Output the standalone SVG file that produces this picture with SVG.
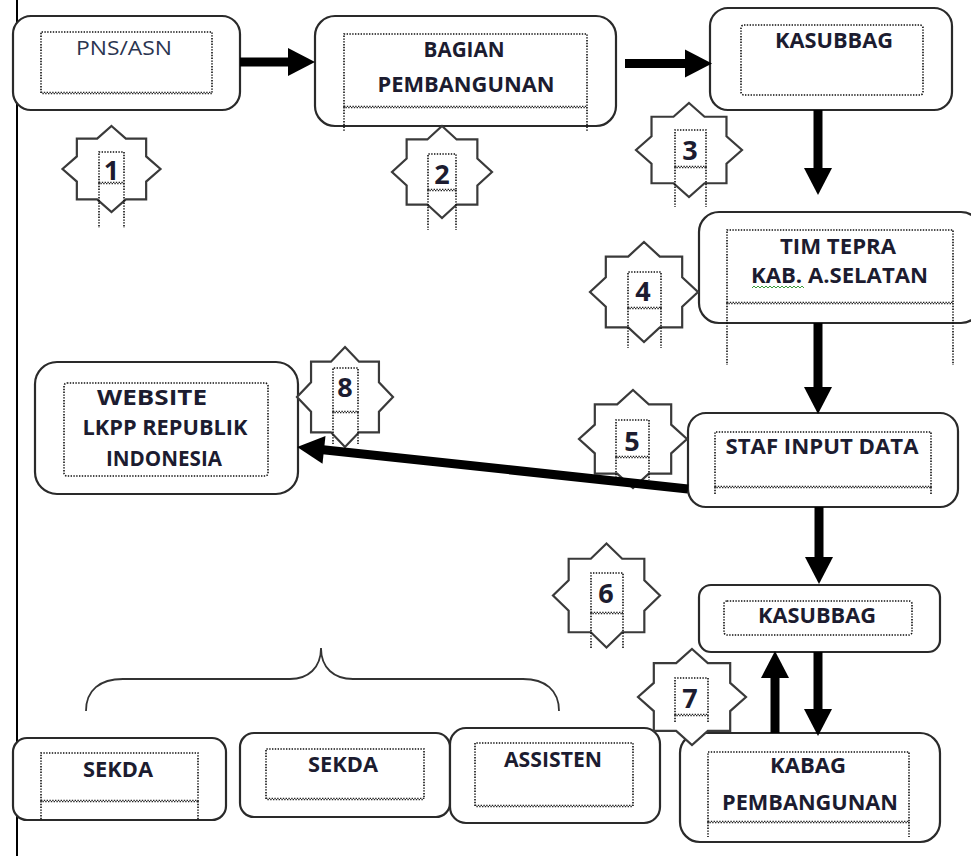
<svg xmlns="http://www.w3.org/2000/svg" xmlns:xlink="http://www.w3.org/1999/xlink" width="971" height="856" viewBox="0 0 971 856">
<style>
.box{fill:#fff;stroke:#2a2a2a;stroke-width:2.2}
.dot{fill:none;stroke:#111;stroke-width:1.6;stroke-dasharray:1.4 1.4}
.wv{fill:none;stroke:#222;stroke-width:1.3;stroke-dasharray:1.4 1.4}
.t{font-family:"Open Sans","Lato","Liberation Sans",sans-serif;font-weight:bold;font-size:22px;fill:#1c1c30;text-anchor:middle}
.tn{font-family:"Open Sans","Lato","Liberation Sans",sans-serif;font-weight:normal;font-size:20px;fill:#2b3550;text-anchor:middle}
.num{font-family:"Open Sans","Lato","Liberation Sans",sans-serif;font-weight:bold;font-size:27px;fill:#1c1c30;text-anchor:middle}
.ar{fill:none;stroke:#000;stroke-width:9;marker-end:url(#ah)}
</style>
<defs>
<polygon id="star" points="0,-50 14.64,-35.36 35.36,-35.36 35.36,-14.64 50,0 35.36,14.64 35.36,35.36 14.64,35.36 0,50 -14.64,35.36 -35.36,35.36 -35.36,14.64 -50,0 -35.36,-14.64 -35.36,-35.36 -14.64,-35.36" fill="#fff" stroke="#3a3a3a" stroke-width="2.2" vector-effect="non-scaling-stroke"/>
<marker id="ah" markerUnits="userSpaceOnUse" markerWidth="30" markerHeight="30" refX="0" refY="14" orient="auto" overflow="visible">
<path d="M-1,0 L26,14 L-1,28 Z" fill="#000"/>
</marker>
</defs>
<rect width="971" height="856" fill="#fff"/>
<line x1="17" y1="0" x2="17" y2="856" stroke="#000" stroke-width="2"/>

<g id="pns">
<rect class="box" x="13" y="16" width="227" height="94" rx="18"/>
<path class="dot" d="M41,93 V32 H212 V93"/>
<path class="wv" d="M41,92.3 H212"/><path class="wv" d="M41,93.7 H212" stroke-dashoffset="1.4"/>
<text class="tn" x="124" y="55" textLength="96" lengthAdjust="spacingAndGlyphs">PNS/ASN</text>
</g>

<g id="bagian">
<rect class="box" x="315" y="16" width="301" height="110" rx="20"/>
<path class="dot" d="M344,107 V34 H587 V107 M344,107 V132 M587,107 V132"/>
<path class="wv" d="M344,106.3 H587"/><path class="wv" d="M344,107.7 H587" stroke-dashoffset="1.4"/>
<text class="t" x="464" y="57" textLength="81" lengthAdjust="spacingAndGlyphs">BAGIAN</text>
<text class="t" x="466" y="92" textLength="177" lengthAdjust="spacingAndGlyphs">PEMBANGUNAN</text>
</g>

<g id="kasubbag1">
<rect class="box" x="710" y="8" width="242" height="102" rx="18"/>
<rect class="dot" x="741" y="25" width="182" height="70" rx="3"/>
<text class="t" x="834" y="48" textLength="118" lengthAdjust="spacingAndGlyphs">KASUBBAG</text>
</g>

<g id="timtepra">
<rect class="box" x="699" y="212" width="282" height="111" rx="20"/>
<path class="dot" d="M727,303 V230 H953 V303 M727,303 V365 M953,303 V365"/>
<path class="wv" d="M727,302.3 H953"/><path class="wv" d="M727,303.7 H953" stroke-dashoffset="1.4"/>
<text class="t" x="838" y="254" textLength="116" lengthAdjust="spacingAndGlyphs">TIM TEPRA</text>
<text class="t" x="839.5" y="283" textLength="177" lengthAdjust="spacingAndGlyphs">KAB. A.SELATAN</text>
<path d="M752,288 l2,-2 l2,2 l2,-2 l2,2 l2,-2 l2,2 l2,-2 l2,2 l2,-2 l2,2 l2,-2 l2,2 l2,-2 l2,2 l2,-2 l2,2 l2,-2 l2,2 l2,-2 l2,2 l2,-2 l2,2 l2,-2 l2,2 l2,-2 l2,2" fill="none" stroke="#3a9a3a" stroke-width="1"/>
</g>

<g id="website">
<rect class="box" x="35" y="362" width="263" height="132" rx="22"/>
<rect class="dot" x="64" y="383" width="204" height="93" rx="3"/>
<text class="t" x="152" y="405" textLength="110" lengthAdjust="spacingAndGlyphs">WEBSITE</text>
<text class="t" x="165" y="435" textLength="165" lengthAdjust="spacingAndGlyphs">LKPP REPUBLIK</text>
<text class="t" x="164" y="466" textLength="116" lengthAdjust="spacingAndGlyphs">INDONESIA</text>
</g>

<g id="staf">
<rect class="box" x="688" y="413" width="270" height="94" rx="18"/>
<path class="dot" d="M715,487 V432 H931 V487 M715,487 V495 M931,487 V495"/>
<path class="wv" d="M715,486.3 H931"/><path class="wv" d="M715,487.7 H931" stroke-dashoffset="1.4"/>
<text class="t" x="822" y="454" textLength="193" lengthAdjust="spacingAndGlyphs">STAF INPUT DATA</text>
</g>

<g id="kasubbag2">
<rect class="box" x="699" y="585" width="241" height="67" rx="12"/>
<rect class="dot" x="724" y="601" width="188" height="34" rx="3"/>
<text class="t" x="817" y="623" textLength="118" lengthAdjust="spacingAndGlyphs">KASUBBAG</text>
</g>

<g id="kabag">
<rect class="box" x="680" y="733" width="260" height="109" rx="20"/>
<path class="dot" d="M708,822 V752 H909 V822 M708,822 V837 M909,822 V837"/>
<path class="wv" d="M708,821.3 H909"/><path class="wv" d="M708,822.7 H909" stroke-dashoffset="1.4"/>
<text class="t" x="808" y="773" textLength="76" lengthAdjust="spacingAndGlyphs">KABAG</text>
<text class="t" x="810" y="810" textLength="176" lengthAdjust="spacingAndGlyphs">PEMBANGUNAN</text>
</g>

<g id="sekda1">
<rect class="box" x="13" y="738" width="213" height="82" rx="14"/>
<path class="dot" d="M41,801 V753 H198 V801 M41,801 V819 M198,801 V819"/>
<path class="wv" d="M41,800.3 H198"/><path class="wv" d="M41,801.7 H198" stroke-dashoffset="1.4"/>
<text class="t" x="118" y="777" textLength="70" lengthAdjust="spacingAndGlyphs">SEKDA</text>
</g>

<g id="sekda2">
<rect class="box" x="240" y="733" width="210" height="84" rx="14"/>
<path class="dot" d="M266,799 V749 H424 V799"/>
<path class="wv" d="M266,798.3 H424"/><path class="wv" d="M266,799.7 H424" stroke-dashoffset="1.4"/>
<text class="t" x="343" y="772" textLength="70" lengthAdjust="spacingAndGlyphs">SEKDA</text>
</g>

<g id="assisten">
<rect class="box" x="450" y="728" width="210" height="95" rx="16"/>
<path class="dot" d="M475,806 V743 H633 V806"/>
<path class="wv" d="M475,805.3 H633"/><path class="wv" d="M475,806.7 H633" stroke-dashoffset="1.4"/>
<text class="t" x="553" y="767" textLength="98" lengthAdjust="spacingAndGlyphs">ASSISTEN</text>
</g>

<g id="brace">
<path d="M86,711 C86,690 100,679 123,679 L290,679 C308,679 321,668 321,648 C321,668 334,679 353,679 L523,679 C545,679 559,690 559,711" fill="none" stroke="#333" stroke-width="1.8"/>
</g>

<g id="step1">
<use xlink:href="#star" href="#star" transform="translate(111.5,169) scale(0.98,0.86)"/>
<path class="dot" d="M99,183 V152 H124 V183 M99,183 V228 M124,183 V228"/>
<path class="wv" d="M99,182.3 H124"/><path class="wv" d="M99,183.7 H124" stroke-dashoffset="1.4"/>
<text class="num" x="111.5" y="180">1</text>
</g>
<g id="step2">
<use xlink:href="#star" href="#star" transform="translate(442,172) scale(1.0,0.92)"/>
<path class="dot" d="M428,190 V154 H456 V190 M428,190 V230 M456,190 V230"/>
<path class="wv" d="M428,189.3 H456"/><path class="wv" d="M428,190.7 H456" stroke-dashoffset="1.4"/>
<text class="num" x="442" y="184">2</text>
</g>
<g id="step3">
<use xlink:href="#star" href="#star" transform="translate(689,150) scale(1.06,0.94)"/>
<path class="dot" d="M675,167 V130 H706 V167 M675,167 V207 M706,167 V207"/>
<path class="wv" d="M675,166.3 H706"/><path class="wv" d="M675,167.7 H706" stroke-dashoffset="1.4"/>
<text class="num" x="690" y="160">3</text>
</g>
<g id="step4">
<use xlink:href="#star" href="#star" transform="translate(644,292) scale(1.08,1.0)"/>
<path class="dot" d="M628,308 V272 H661 V308 M628,308 V348 M661,308 V348"/>
<path class="wv" d="M628,307.3 H661"/><path class="wv" d="M628,308.7 H661" stroke-dashoffset="1.4"/>
<text class="num" x="643" y="301">4</text>
</g>
<g id="step5">
<use xlink:href="#star" href="#star" transform="translate(633,439) scale(1.08,0.98)"/>
<path class="dot" d="M616,457 V420 H649 V457 M616,457 V480 M649,457 V480"/>
<path class="wv" d="M616,456.3 H649"/><path class="wv" d="M616,457.7 H649" stroke-dashoffset="1.4"/>
<text class="num" x="632" y="451">5</text>
</g>
<g id="step6">
<use xlink:href="#star" href="#star" transform="translate(606.5,595.5) scale(1.07,1.04)"/>
<path class="dot" d="M591,613 V573 H623 V613 M591,613 V648 M623,613 V648"/>
<path class="wv" d="M591,612.3 H623"/><path class="wv" d="M591,613.7 H623" stroke-dashoffset="1.4"/>
<text class="num" x="606" y="603">6</text>
</g>
<g id="step7">
<use xlink:href="#star" href="#star" transform="translate(692,697) scale(1.08,0.96)"/>
<path class="dot" d="M675,715 V678 H708 V715 M675,715 V723 M708,715 V723"/>
<path class="wv" d="M675,714.3 H708"/><path class="wv" d="M675,715.7 H708" stroke-dashoffset="1.4"/>
<text class="num" x="690" y="708">7</text>
</g>
<g id="step8">
<use xlink:href="#star" href="#star" transform="translate(345,397) scale(0.96,1.0)"/>
<path class="dot" d="M333,412 V368 H358 V412 M333,412 V444 M358,412 V444"/>
<path class="wv" d="M333,411.3 H358"/><path class="wv" d="M333,412.7 H358" stroke-dashoffset="1.4"/>
<text class="num" x="345" y="397">8</text>
</g>

<g id="connectors">
<line class="ar" x1="240" y1="62" x2="289" y2="62" stroke-width="8"/>
<line class="ar" x1="625" y1="63.5" x2="686" y2="63.5" stroke-width="8"/>
<line class="ar" x1="818" y1="110" x2="818" y2="169"/>
<line class="ar" x1="818" y1="323" x2="818" y2="388"/>
<line class="ar" x1="688" y1="489" x2="323" y2="449.7" stroke-width="8"/>
<line class="ar" x1="819" y1="507" x2="819" y2="558"/>
<line class="ar" x1="775" y1="733" x2="775" y2="677"/>
<line class="ar" x1="818" y1="652" x2="818" y2="710"/>
</g>
</svg>
